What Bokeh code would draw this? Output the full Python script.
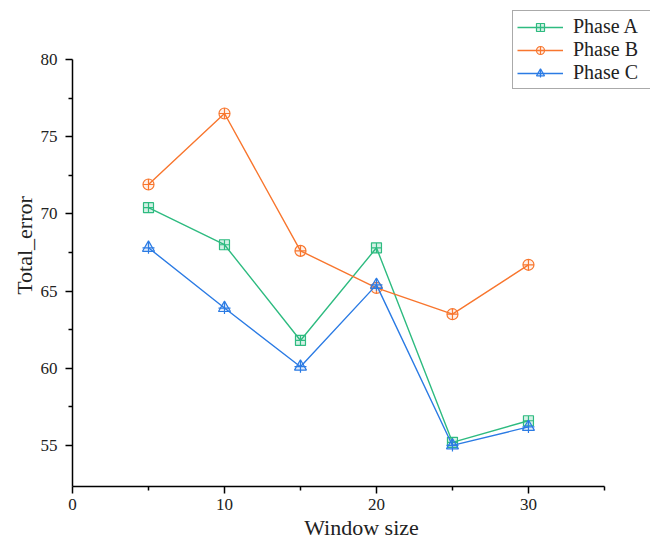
from bokeh.plotting import figure
from bokeh.models import FixedTicker, Range1d, Legend, LegendItem
from bokeh.embed import file_html
from bokeh.resources import INLINE

window_size = [5, 10, 15, 20, 25, 30]
phase_a = [70.4, 68.0, 61.8, 67.8, 55.2, 56.6]
phase_b = [71.9, 76.5, 67.6, 65.2, 63.5, 66.7]
phase_c = [67.8, 63.9, 60.1, 65.4, 55.0, 56.2]
x_ticks = [0, 10, 20, 30]
x_minor = [5, 15, 25, 35]
y_ticks = [55, 60, 65, 70, 75, 80]
y_minor = [57.5, 62.5, 67.5, 72.5, 77.5]

GREEN = "#2EBB80"
ORANGE = "#F8762E"
BLUE = "#2B7BE4"
FONT = "Liberation Serif"

p = figure(width=650, height=547, output_backend="svg", toolbar_location=None,
           x_range=Range1d(0, 38.03), y_range=Range1d(52.34, 83.56),
           min_border_left=72, min_border_top=4, min_border_bottom=61, min_border_right=0)
p.outline_line_color = None
p.xgrid.visible = False
p.ygrid.visible = False
p.background_fill_color = "white"

p.xaxis.ticker = FixedTicker(ticks=x_ticks, minor_ticks=x_minor)
p.yaxis.ticker = FixedTicker(ticks=y_ticks, minor_ticks=y_minor)
p.xaxis.bounds = (0, 35)
p.yaxis.bounds = (52.34, 80)
for ax in (p.xaxis[0], p.yaxis[0]):
    ax.axis_line_color = "black"
    ax.axis_line_width = 1.5
    ax.major_tick_line_color = "black"
    ax.major_tick_line_width = 1.5
    ax.minor_tick_line_color = "black"
    ax.minor_tick_line_width = 1.5
    ax.major_tick_out = 7
    ax.major_tick_in = 0
    ax.minor_tick_out = 4
    ax.minor_tick_in = 0
    ax.major_label_text_font = FONT
    ax.major_label_text_font_size = "17px"
    ax.major_label_text_color = "#222222"
    ax.axis_label_text_font = FONT
    ax.axis_label_text_font_size = "22px"
    ax.axis_label_text_font_style = "normal"
    ax.axis_label_text_color = "#222222"
p.xaxis.axis_label = "Window size"
p.yaxis.axis_label = "Total_error"
p.xaxis.major_label_standoff = 5
p.yaxis.major_label_standoff = 8
p.xaxis.axis_label_standoff = 2
p.yaxis.axis_label_standoff = 1

la = p.line(window_size, phase_a, color=GREEN, line_width=1.4)
ma = p.scatter(window_size, phase_a, marker="square_cross", size=10, line_color=GREEN,
               fill_color=GREEN, fill_alpha=0.2, line_width=1.2)
lb = p.line(window_size, phase_b, color=ORANGE, line_width=1.4)
mb = p.scatter(window_size, phase_b, marker="circle_cross", size=11, line_color=ORANGE,
               fill_color=ORANGE, fill_alpha=0.1, line_width=1.2)
lc = p.line(window_size, phase_c, color=BLUE, line_width=1.4)
mc = p.scatter(window_size, phase_c, marker="triangle", size=12, line_color=BLUE,
               fill_color=BLUE, fill_alpha=0.15, line_width=1.2)
mc2 = p.scatter(window_size, phase_c, marker="cross", size=12, line_color=BLUE, line_width=1.2)

legend = Legend(items=[
    LegendItem(label="Phase A", renderers=[la, ma]),
    LegendItem(label="Phase B", renderers=[lb, mb]),
    LegendItem(label="Phase C", renderers=[lc, mc, mc2]),
], location=(440, 397))
legend.label_text_font = FONT
legend.label_text_font_size = "20px"
legend.label_text_color = "#222222"
legend.border_line_color = "#555555"
legend.border_line_width = 1
legend.glyph_width = 46
legend.glyph_height = 20
legend.label_height = 20
legend.label_width = 92
legend.spacing = 0
legend.padding = 4
legend.margin = 0
legend.label_standoff = 10
legend.background_fill_alpha = 1
p.add_layout(legend, "center")

open("out.html", "w").write(file_html(p, INLINE))
